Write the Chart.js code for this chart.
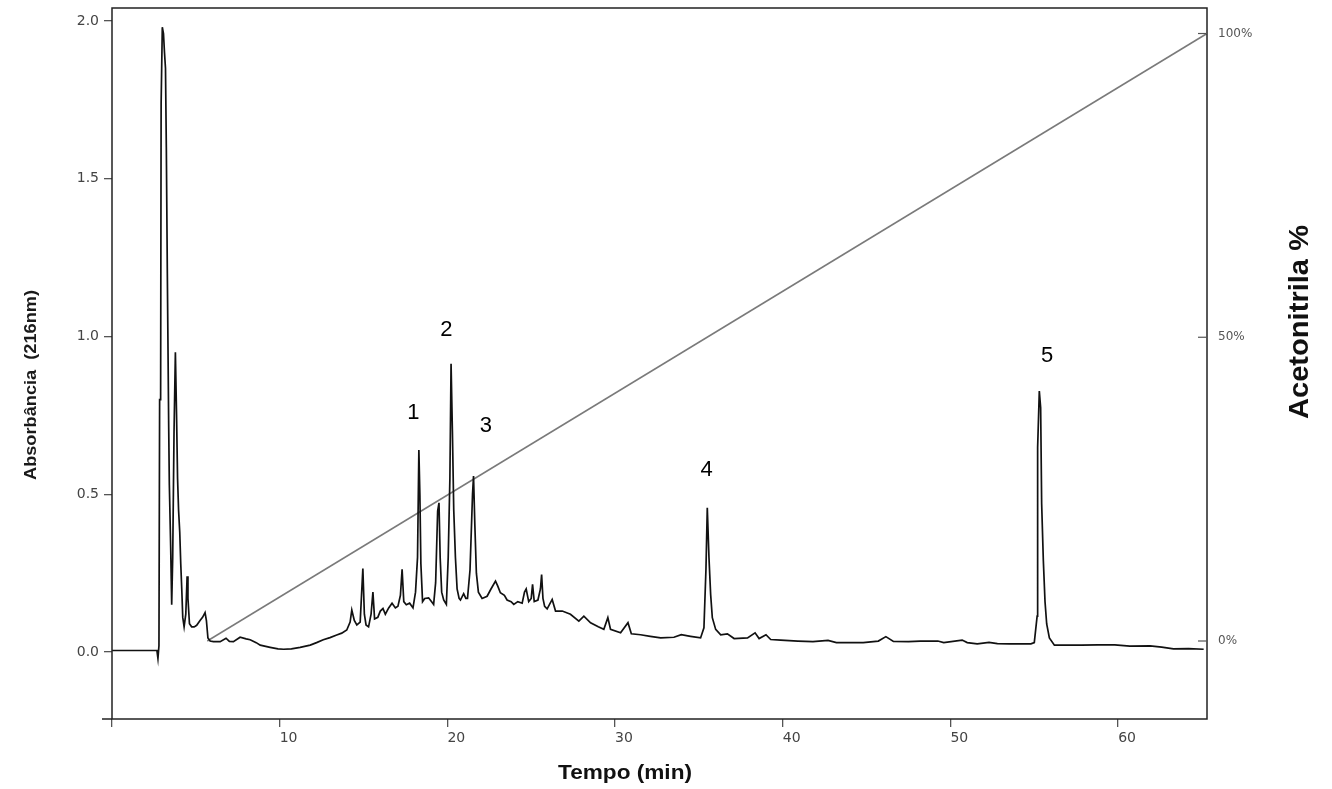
<!DOCTYPE html>
<html>
<head>
<meta charset="utf-8">
<style>
  html, body { margin: 0; padding: 0; background: #fff; }
  canvas { display: block; }
</style>
</head>
<body>
<canvas id="chroma" width="1332" height="789"></canvas>

<script src="https://cdn.jsdelivr.net/npm/chart.js@4"></script>

<script>
  // chromatogram: time (min) and absorbance at 216 nm
  const timeMin = [
    0.0, 2.68, 2.74, 2.80, 2.84, 2.90, 2.93, 2.97, 3.00, 3.07, 3.13, 3.19, 3.24, 3.30, 3.38, 3.42,
    3.50, 3.56, 3.62, 3.70, 3.78, 3.85, 3.91, 3.97, 4.04, 4.10, 4.16, 4.22, 4.30, 4.40, 4.48, 4.53,
    4.62, 4.75, 4.90, 5.05, 5.25, 5.40, 5.55, 5.63, 5.72, 5.85, 6.05, 6.45, 6.80, 7.00, 7.24, 7.64,
    8.00, 8.24, 8.60, 8.84, 9.43, 9.90, 10.23, 10.70, 11.22, 11.82, 12.20, 12.60, 13.00, 13.40, 13.70, 14.00,
    14.20, 14.30, 14.45, 14.60, 14.80, 14.96, 15.05, 15.15, 15.30, 15.45, 15.56, 15.66, 15.85, 16.00, 16.16, 16.30,
    16.50, 16.70, 16.90, 17.05, 17.20, 17.30, 17.40, 17.55, 17.75, 17.95, 18.10, 18.22, 18.30, 18.36, 18.42, 18.52,
    18.65, 18.88, 19.05, 19.18, 19.30, 19.42, 19.50, 19.57, 19.66, 19.78, 19.94, 20.05, 20.15, 20.22, 20.30, 20.38,
    20.48, 20.58, 20.70, 20.78, 20.97, 21.10, 21.20, 21.35, 21.50, 21.56, 21.64, 21.73, 21.85, 22.07, 22.37, 22.60,
    22.87, 23.00, 23.16, 23.40, 23.56, 23.80, 23.96, 24.20, 24.46, 24.60, 24.70, 24.85, 25.00, 25.08, 25.18, 25.40,
    25.55, 25.62, 25.70, 25.80, 25.95, 26.25, 26.45, 26.85, 27.34, 27.84, 28.14, 28.54, 29.00, 29.33, 29.57, 29.73,
    30.33, 30.77, 30.97, 31.52, 32.10, 32.72, 33.51, 33.95, 34.50, 35.10, 35.30, 35.42, 35.50, 35.60, 35.70, 35.80,
    36.00, 36.30, 36.70, 37.10, 37.90, 38.35, 38.59, 39.00, 39.28, 39.88, 40.90, 41.80, 42.70, 43.20, 44.80, 45.70,
    46.15, 46.60, 47.50, 48.20, 49.25, 49.60, 50.70, 51.00, 51.60, 52.30, 52.80, 53.50, 54.80, 55.00, 55.17, 55.20,
    55.30, 55.38, 55.44, 55.54, 55.64, 55.74, 55.90, 56.20, 57.00, 57.80, 58.80, 59.80, 60.70, 61.90, 62.60, 63.30,
    64.20, 65.10
  ];
  const absorbance = [
    0.005, 0.005, -0.02, 0.02, 0.80, 0.80, 1.74, 1.74, 1.98, 1.96, 1.90, 1.85, 1.60, 1.20, 0.72, 0.53,
    0.33, 0.15, 0.30, 0.70, 0.95, 0.75, 0.55, 0.45, 0.38, 0.28, 0.20, 0.11, 0.08, 0.12, 0.24, 0.17,
    0.09, 0.08, 0.08, 0.085, 0.10, 0.11, 0.125, 0.10, 0.045, 0.035, 0.033, 0.033, 0.044, 0.034, 0.033, 0.047,
    0.042, 0.039, 0.030, 0.022, 0.015, 0.010, 0.009, 0.010, 0.015, 0.022, 0.030, 0.039, 0.046, 0.054, 0.060, 0.070,
    0.095, 0.133, 0.100, 0.086, 0.095, 0.265, 0.120, 0.086, 0.080, 0.120, 0.190, 0.105, 0.110, 0.130, 0.138, 0.120,
    0.140, 0.155, 0.140, 0.145, 0.180, 0.262, 0.160, 0.150, 0.155, 0.140, 0.190, 0.300, 0.640, 0.500, 0.280, 0.160,
    0.170, 0.172, 0.160, 0.151, 0.220, 0.447, 0.473, 0.300, 0.190, 0.165, 0.151, 0.300, 0.550, 0.914, 0.700, 0.450,
    0.300, 0.200, 0.170, 0.165, 0.185, 0.170, 0.170, 0.260, 0.500, 0.558, 0.400, 0.250, 0.190, 0.170, 0.177, 0.200,
    0.225, 0.210, 0.188, 0.180, 0.165, 0.160, 0.151, 0.160, 0.155, 0.190, 0.200, 0.160, 0.170, 0.215, 0.160, 0.165,
    0.200, 0.246, 0.170, 0.145, 0.137, 0.167, 0.130, 0.130, 0.120, 0.098, 0.114, 0.093, 0.080, 0.072, 0.109, 0.072,
    0.061, 0.093, 0.058, 0.055, 0.050, 0.045, 0.047, 0.055, 0.050, 0.045, 0.077, 0.262, 0.457, 0.300, 0.183, 0.109,
    0.072, 0.055, 0.058, 0.043, 0.045, 0.061, 0.043, 0.055, 0.040, 0.038, 0.035, 0.033, 0.037, 0.030, 0.030, 0.035,
    0.049, 0.034, 0.033, 0.035, 0.035, 0.030, 0.038, 0.030, 0.026, 0.031, 0.027, 0.026, 0.026, 0.030, 0.114, 0.648,
    0.827, 0.774, 0.470, 0.290, 0.160, 0.089, 0.045, 0.022, 0.022, 0.022, 0.023, 0.023, 0.019, 0.020, 0.016, 0.010,
    0.011, 0.009
  ];

  // acetonitrile gradient (right axis)
  const gradientTime = [5.68, 65.3];
  const gradientPct = [0, 100];

  // peak numbers and where they sit (time, absorbance)
  const peakNames = ['1', '2', '3', '4', '5'];
  const peakLabelTime = [17.97, 19.94, 22.30, 35.46, 55.76];
  const peakLabelAbs = [0.757, 1.02, 0.716, 0.577, 0.938];

  const xTicks = [0, 10, 20, 30, 40, 50, 60];
  const yTicks = [0, 0.5, 1.0, 1.5, 2.0];
  const y2Ticks = [0, 50, 100];

  function drawFitText(ctx, text, cx, cy, angle, font, len, color) {
    ctx.save();
    ctx.font = font;
    ctx.fillStyle = color;
    ctx.translate(cx, cy);
    ctx.rotate(angle);
    const w = ctx.measureText(text).width;
    ctx.scale(len / w, 1);
    ctx.textAlign = 'center';
    ctx.textBaseline = 'middle';
    ctx.fillText(text, 0, 0);
    ctx.restore();
  }

  // fixed box sizes so the plot frame lands where the figure has it
  function fixBox(size, key) {
    return s => {
      s[key] = size;
      s.paddingTop = 0; s.paddingBottom = 0; s.paddingLeft = 0; s.paddingRight = 0;
    };
  }

  const decor = {
    id: 'decor',
    afterDraw(chart) {
      const { ctx, chartArea: a, scales } = chart;
      ctx.save();
      // frame
      ctx.strokeStyle = '#222';
      ctx.lineWidth = 1.5;
      ctx.strokeRect(a.left, a.top, a.right - a.left, a.bottom - a.top);
      ctx.beginPath();
      ctx.moveTo(a.left - 10, a.bottom);
      ctx.lineTo(a.left, a.bottom);
      ctx.stroke();
      // right axis ticks point inwards
      ctx.strokeStyle = '#555';
      ctx.lineWidth = 1.2;
      y2Ticks.forEach(v => {
        const y = scales.y2.getPixelForValue(v);
        ctx.beginPath();
        ctx.moveTo(a.right - 9, y);
        ctx.lineTo(a.right, y);
        ctx.stroke();
      });
      // peak numbers
      ctx.fillStyle = '#000';
      ctx.font = '22px "Liberation Sans", Arial, sans-serif';
      ctx.textAlign = 'center';
      ctx.textBaseline = 'middle';
      peakNames.forEach((n, i) => {
        ctx.fillText(n, scales.x.getPixelForValue(peakLabelTime[i]), scales.y.getPixelForValue(peakLabelAbs[i]));
      });
      ctx.restore();
      // axis titles
      drawFitText(ctx, 'Absorbância  (216nm)', 31, 385, -Math.PI / 2, 'bold 17px "Liberation Sans", Arial, sans-serif', 190, '#1a1a1a');
      drawFitText(ctx, 'Acetonitrila %', 1301, 322, -Math.PI / 2, 'bold 27px "Liberation Sans", Arial, sans-serif', 194, '#111');
      drawFitText(ctx, 'Tempo (min)', 625, 773, 0, 'bold 21px "Liberation Sans", Arial, sans-serif', 134, '#111');
    }
  };

  const tickFont = { family: '"DejaVu Sans", Verdana, sans-serif', size: 14 };

  new Chart(document.getElementById('chroma'), {
    type: 'line',
    data: {
      datasets: [
        {
          label: 'Absorbância',
          data: timeMin.map((t, i) => ({ x: t, y: absorbance[i] })),
          borderColor: '#111',
          borderWidth: 1.7,
          pointRadius: 0,
          tension: 0,
          yAxisID: 'y'
        },
        {
          label: 'Acetonitrila',
          data: gradientTime.map((t, i) => ({ x: t, y: gradientPct[i] })),
          borderColor: '#7a7a7a',
          borderWidth: 1.5,
          pointRadius: 0,
          yAxisID: 'y2'
        }
      ]
    },
    options: {
      responsive: false,
      animation: false,
      layout: { padding: { top: 8, left: 0, right: 0, bottom: 0 } },
      plugins: { legend: { display: false }, tooltip: { enabled: false } },
      scales: {
        x: {
          type: 'linear',
          min: 0,
          max: 65.3,
          afterBuildTicks: s => { s.ticks = xTicks.map(v => ({ value: v })); },
          afterFit: fixBox(70, 'height'),
          border: { display: false },
          grid: { drawOnChartArea: false, tickLength: 8, color: '#555', lineWidth: 1.3 },
          ticks: {
            align: 'start',
            padding: 3,
            color: '#444',
            font: tickFont,
            maxRotation: 0,
            callback: v => (v === 0 ? '' : String(v))
          }
        },
        y: {
          position: 'left',
          min: -0.212,
          max: 2.041,
          afterBuildTicks: s => { s.ticks = yTicks.map(v => ({ value: v })); },
          afterFit: fixBox(112, 'width'),
          border: { display: false },
          grid: { drawOnChartArea: false, tickLength: 8, color: '#555', lineWidth: 1.3 },
          ticks: { padding: 5, color: '#444', font: tickFont, callback: v => v.toFixed(1) }
        },
        y2: {
          position: 'right',
          min: -12.84,
          max: 104.2,
          afterBuildTicks: s => { s.ticks = y2Ticks.map(v => ({ value: v })); },
          afterFit: fixBox(125, 'width'),
          border: { display: false },
          grid: { display: false, drawTicks: false },
          ticks: {
            padding: 11,
            color: '#555',
            font: { family: '"DejaVu Sans", Verdana, sans-serif', size: 12 },
            callback: v => v + '%'
          }
        }
      }
    },
    plugins: [decor]
  });
</script>
</body>
</html>
